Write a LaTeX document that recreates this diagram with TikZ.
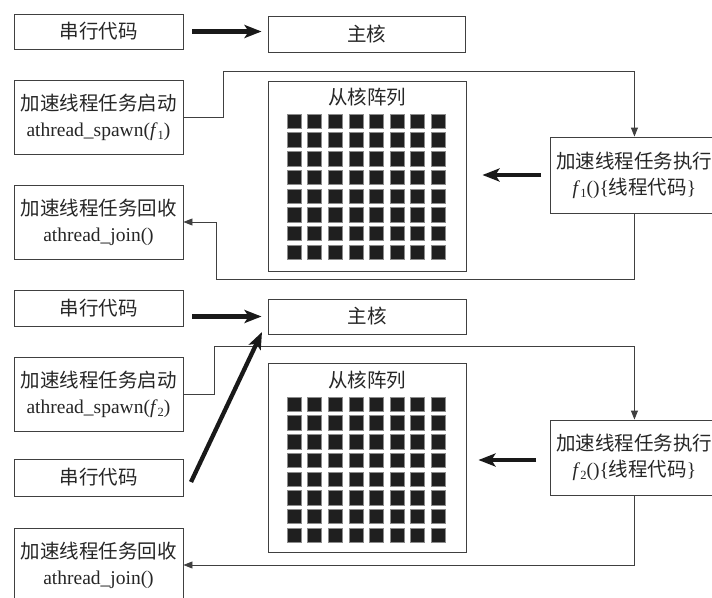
\documentclass[tikz,border=0pt]{standalone}
\usepackage{fontspec}
\setmainfont{Liberation Serif}
\newfontfamily\cjk{Noto Sans CJK SC}
\usetikzlibrary{arrows.meta,calc}
\newcommand{\subidx}[1]{\raisebox{-0.35ex}{\fontsize{12.5}{12.5}\selectfont #1}}
\begin{document}
\begin{tikzpicture}[x=1pt,y=-1pt,
  box/.style={draw=black!75,line width=0.9pt,rectangle,inner sep=0pt,align=center,text=black!85,font=\fontsize{19.5}{26}\selectfont},
  conn/.style={draw=black!75,line width=0.9pt},
  tipc/.style={-{Triangle[length=9pt,width=7pt]}},
  bigarrow/.style={draw=black!90,line width=4.3pt,-{Stealth[length=17pt,width=13pt,inset=4pt]}},
  sq/.style={fill=black!88,draw=black!45,line width=0.5pt},
  lbl/.style={text=black!85,font=\fontsize{19.5}{26}\selectfont,inner sep=0pt}]
\fill[white] (0,0) rectangle (712,597);
\clip (0,0) rectangle (712,597);

% ---------- upper part ----------
\node[box,minimum width=169pt,minimum height=35pt] (serial1) at (98.5,31.5) {\cjk 串行代码};
\node[box,minimum width=197pt,minimum height=36pt] (main1) at (366.5,34) {\cjk 主核};
\node[box,minimum width=169pt,minimum height=74pt] (spawn1) at (98.5,117)
  {{\cjk 加速线程任务启动}\\athread\_spawn(\textit{f}\subidx{1})};
\node[box,minimum width=198pt,minimum height=190pt] (array1) at (367,176) {};
\node[lbl] (alabel1) at (367,97) {\cjk 从核阵列};
\foreach \i in {0,...,7} \foreach \j in {0,...,7}
  \filldraw[sq] (287+\i*20.6,114+\j*18.7) rectangle ++(14,14.5);
\node[box,anchor=west,text width=158pt,inner xsep=5pt,minimum height=76pt] (exec1) at (550,175)
  {{\cjk 加速线程任务执行}\\\textit{f}\subidx{1}()\{{\cjk 线程代码}\}};
\node[box,minimum width=169pt,minimum height=74pt] (join1) at (98.5,222)
  {{\cjk 加速线程任务回收}\\athread\_join()};

\draw[bigarrow,shorten <=9pt,shorten >=6pt] (serial1.east) -- (serial1.east -| main1.west);
\coordinate (c1) at (223,71);
\draw[conn,tipc] (spawn1.east) -| (c1) -| (exec1.north);
\draw[bigarrow,shorten <=9pt,shorten >=16pt] (exec1.west) -- (exec1.west -| array1.east);
\coordinate (c2) at (216,279);
\draw[conn,tipc] (exec1.south) |- (c2) |- (join1.east);

% ---------- lower part ----------
\node[box,minimum width=169pt,minimum height=36pt] (serial2) at (98.5,308) {\cjk 串行代码};
\node[box,minimum width=198pt,minimum height=35pt] (main2) at (367,316.5) {\cjk 主核};
\node[box,minimum width=169pt,minimum height=74pt] (spawn2) at (98.5,394)
  {{\cjk 加速线程任务启动}\\athread\_spawn(\textit{f}\subidx{2})};
\node[box,minimum width=198pt,minimum height=189pt] (array2) at (367,457.5) {};
\node[lbl] (alabel2) at (367,380) {\cjk 从核阵列};
\foreach \i in {0,...,7} \foreach \j in {0,...,7}
  \filldraw[sq] (287+\i*20.6,397+\j*18.7) rectangle ++(14,14.5);
\node[box,anchor=west,text width=158pt,inner xsep=5pt,minimum height=75pt] (exec2) at (550,457.5)
  {{\cjk 加速线程任务执行}\\\textit{f}\subidx{2}()\{{\cjk 线程代码}\}};
\node[box,minimum width=169pt,minimum height=37pt] (serial3) at (98.5,477.5) {\cjk 串行代码};
\node[box,minimum width=169pt,minimum height=74pt] (join2) at (98.5,565)
  {{\cjk 加速线程任务回收}\\athread\_join()};

\draw[bigarrow,shorten <=9pt,shorten >=6pt] (serial2.east |- main2.west) -- (main2.west);
\coordinate (c3) at (214,346);
\draw[conn,tipc] (spawn2.east) -| (c3) -| (exec2.north);
\draw[bigarrow,shorten <=14pt,shorten >=12pt] (exec2.west |- 0,460) -- (array2.east |- 0,460);
\draw[conn,tipc] (exec2.south) |- (join2.east);
\coordinate (d1) at (191,482);
\coordinate (d2) at (262,332);
\draw[bigarrow] (d1) -- (d2);
\end{tikzpicture}
\end{document}
